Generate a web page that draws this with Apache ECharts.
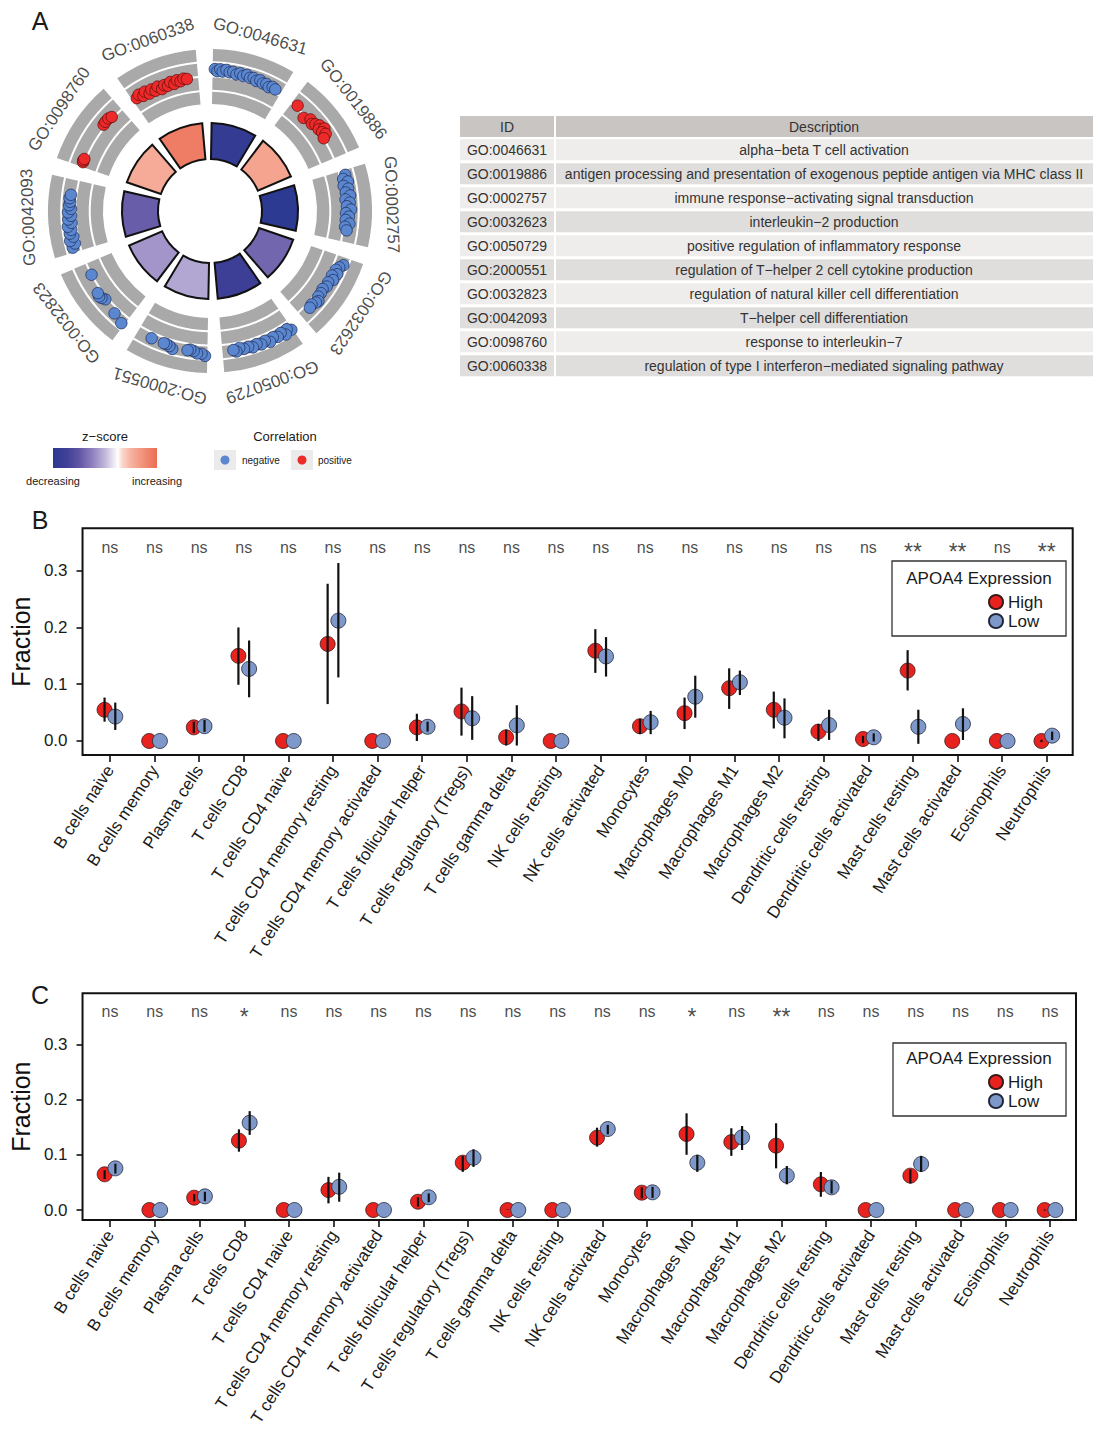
<!DOCTYPE html>
<html>
<head>
<meta charset="utf-8">
<script src="https://cdn.jsdelivr.net/npm/echarts@6/dist/echarts.min.js"></script>
<style>
  html, body { margin: 0; padding: 0; background: #fff; }
  #main { width: 1093px; height: 1441px; }
</style>
</head>
<body>
<div id="main"></div>
<script>
// ---- panel A: GO terms ------------------------------------------------------
var GO_IDS = ['GO:0046631', 'GO:0019886', 'GO:0002757', 'GO:0032623', 'GO:0050729',
              'GO:2000551', 'GO:0032823', 'GO:0042093', 'GO:0098760', 'GO:0060338'];
var GO_DESC = [
  'alpha\u2212beta T cell activation',
  'antigen processing and presentation of exogenous peptide antigen via MHC class II',
  'immune response\u2212activating signal transduction',
  'interleukin\u22122 production',
  'positive regulation of inflammatory response',
  'regulation of T\u2212helper 2 cell cytokine production',
  'regulation of natural killer cell differentiation',
  'T\u2212helper cell differentiation',
  'response to interleukin\u22127',
  'regulation of type I interferon\u2212mediated signaling pathway'
];
// z-score of each term (inner ring)
var GO_ZSCORE = [-4.6, 1.4, -4.9, -2.6, -4.1, -1.3, -1.6, -2.8, 1.2, 2.5];
// correlation sign of each term (outer ring dots)
var GO_SIGN = ['negative', 'positive', 'negative', 'negative', 'negative',
               'negative', 'negative', 'negative', 'positive', 'positive'];
// genes of each term: [position inside the term, logFC level]
var GO_GENES = [
  [[.11,3.5],[.14,3.3],[.17,3.5],[.20,3.3],[.24,3.5],[.28,3.3],[.32,3.4],[.36,3.2],[.40,3.4],[.44,3.2],
   [.48,3.4],[.52,3.2],[.56,3.3],[.60,3.1],[.64,3.3],[.68,3.1],[.72,3.2],[.76,3.0],[.80,3.2],[.84,3.1]],
  [[.16,3.0],[.31,2.5],[.38,2.9],[.43,2.7],[.46,2.95],[.50,3.2],[.53,2.9],[.56,3.4],[.58,3.0],[.62,3.2],[.65,2.8]],
  [[.14,3.3],[.18,3.0],[.22,3.4],[.26,2.9],[.30,3.3],[.34,3.0],[.38,3.4],[.42,2.9],[.46,3.3],[.50,3.0],
   [.54,3.4],[.58,2.9],[.62,3.2],[.66,2.9],[.70,3.3],[.74,2.9],[.78,3.1]],
  [[.17,3.7],[.21,3.4],[.25,3.2],[.29,3.5],[.33,3.1],[.37,3.4],[.42,3.1],[.47,3.2],[.52,3.0],[.57,3.1],
   [.62,3.1],[.66,3.4],[.69,3.3],[.74,3.1],[.78,3.2]],
  [[.10,3.7],[.14,3.4],[.18,3.8],[.22,3.4],[.27,3.6],[.32,3.4],[.37,3.7],[.42,3.4],[.47,3.6],[.52,3.4],
   [.57,3.6],[.62,3.4],[.67,3.5],[.72,3.3],[.76,3.6],[.79,3.4]],
  [[.11,3.8],[.15,3.6],[.20,3.6],[.24,3.4],[.28,3.3],[.31,3.4],[.48,3.6],[.52,3.4],[.56,3.3],[.59,3.3],[.74,3.3]],
  [[.12,3.6],[.25,3.3],[.44,3.0],[.48,3.2],[.51,3.3],[.55,3.2],[.77,2.75]],
  [[.14,3.5],[.18,3.2],[.22,3.6],[.26,3.2],[.30,3.5],[.34,3.3],[.38,3.6],[.42,3.2],[.46,3.5],[.50,3.2],
   [.54,3.5],[.58,3.2],[.62,3.4],[.66,3.3],[.70,3.4],[.74,3.3]],
  [[.14,2.9],[.16,2.95],[.18,2.9],[.64,3.0],[.68,3.05],[.73,3.05],[.77,2.9]],
  [[.14,2.75],[.18,2.95],[.22,2.6],[.26,2.9],[.30,2.5],[.34,2.8],[.38,2.5],[.42,2.8],[.46,2.4],[.50,2.7],
   [.54,2.5],[.58,2.8],[.62,2.5],[.66,2.8],[.70,2.6],[.74,2.8],[.78,2.7]]
];

// ---- panels B and C: immune cell fractions -----------------------------------
var CELL_TYPES = ['B cells naive', 'B cells memory', 'Plasma cells', 'T cells CD8', 'T cells CD4 naive',
  'T cells CD4 memory resting', 'T cells CD4 memory activated', 'T cells follicular helper',
  'T cells regulatory (Tregs)', 'T cells gamma delta', 'NK cells resting', 'NK cells activated',
  'Monocytes', 'Macrophages M0', 'Macrophages M1', 'Macrophages M2', 'Dendritic cells resting',
  'Dendritic cells activated', 'Mast cells resting', 'Mast cells activated', 'Eosinophils', 'Neutrophils'];
var Y_TICKS = [0, 0.1, 0.2, 0.3];

var B_HIGH_MEAN = [0.055, 0, 0.024, 0.150, 0, 0.171, 0, 0.024, 0.052, 0.0065, 0, 0.159, 0.026, 0.049, 0.093, 0.055, 0.0165, 0.0035, 0.124, 0, 0, 0];
var B_HIGH_LO   = [0.034, 0, 0.014, 0.099, 0, 0.065, 0, 0.000, 0.0094, -0.008, 0, 0.120, 0.012, 0.021, 0.0565, 0.022, 0.000, -0.004, 0.089, 0, 0, -0.002];
var B_HIGH_HI   = [0.0765, 0, 0.034, 0.200, 0, 0.277, 0, 0.048, 0.094, 0.020, 0, 0.197, 0.039, 0.0765, 0.128, 0.087, 0.030, 0.009, 0.160, 0, 0, 0.002];
var B_LOW_MEAN  = [0.043, 0, 0.026, 0.127, 0, 0.212, 0, 0.025, 0.040, 0.0276, 0, 0.149, 0.033, 0.078, 0.1035, 0.041, 0.028, 0.0065, 0.025, 0.030, 0, 0.0094];
var B_LOW_LO    = [0.0194, 0, 0.016, 0.077, 0, 0.112, 0, 0.0165, 0.002, -0.008, 0, 0.1135, 0.012, 0.041, 0.081, 0.0047, 0.0018, -0.001, -0.005, 0.0018, 0, 0.0018];
var B_LOW_HI    = [0.0676, 0, 0.037, 0.177, 0, 0.3135, 0, 0.034, 0.079, 0.063, 0, 0.183, 0.053, 0.115, 0.124, 0.075, 0.055, 0.0135, 0.055, 0.0576, 0, 0.0165];
var B_SIG = ['ns','ns','ns','ns','ns','ns','ns','ns','ns','ns','ns','ns','ns','ns','ns','ns','ns','ns','**','**','ns','**'];

var C_HIGH_MEAN = [0.0646, 0, 0.0223, 0.1255, 0, 0.036, 0, 0.015, 0.0857, 0, 0, 0.131, 0.0314, 0.1376, 0.123, 0.1165, 0.0465, 0, 0.0622, 0, 0, 0];
var C_HIGH_LO   = [0.056, 0, 0.0157, 0.1056, 0, 0.012, 0, 0.006, 0.069, 0, 0, 0.1147, 0.021, 0.100, 0.098, 0.0754, 0.024, 0, 0.048, 0, 0, -0.001];
var C_HIGH_HI   = [0.072, 0, 0.029, 0.146, 0, 0.060, 0, 0.023, 0.098, 0.001, 0, 0.149, 0.041, 0.175, 0.148, 0.157, 0.0688, 0, 0.0736, 0, 0, 0.001];
var C_LOW_MEAN  = [0.0754, 0, 0.0247, 0.158, 0, 0.042, 0, 0.023, 0.0947, 0, 0, 0.1466, 0.032, 0.0857, 0.1316, 0.0622, 0.041, 0, 0.0833, 0, 0, 0];
var C_LOW_LO    = [0.066, 0, 0.016, 0.136, 0, 0.015, 0, 0.014, 0.078, 0, 0, 0.137, 0.022, 0.069, 0.1086, 0.0465, 0.030, 0, 0.069, 0, 0, 0];
var C_LOW_HI    = [0.084, 0, 0.033, 0.179, 0, 0.0676, 0, 0.030, 0.110, 0, 0, 0.154, 0.042, 0.100, 0.152, 0.0797, 0.053, 0, 0.098, 0, 0, 0];
var C_SIG = ['ns','ns','ns','*','ns','ns','ns','ns','ns','ns','ns','ns','ns','*','ns','**','ns','ns','ns','ns','ns','ns'];

// ---- styles ---------------------------------------------------------------
var FONT = '"Liberation Sans", Arial, Helvetica, sans-serif';
var RED = '#e8231f', BLUE = '#7f98ca';
var NEG = '#5a87cf', POS = '#ec2a2a';
var Z_STOPS = [[-5,'#2b3990'],[-4,'#3f3f97'],[-3,'#5f55a4'],[-2,'#8e7fbd'],[-1,'#c2b7db'],
               [0,'#ffffff'],[0.3,'#fbd9cf'],[1,'#f6b29f'],[2,'#f18f77'],[3,'#ec6b54']];

function hexRgb(h) { return [parseInt(h.substr(1,2),16), parseInt(h.substr(3,2),16), parseInt(h.substr(5,2),16)]; }
function zColor(z) {
  for (var k = 0; k < Z_STOPS.length - 1; k++) {
    var a = Z_STOPS[k], b = Z_STOPS[k+1];
    if (z <= b[0]) {
      var t = Math.max(0, (z - a[0]) / (b[0] - a[0]));
      var ca = hexRgb(a[1]), cb = hexRgb(b[1]);
      return 'rgb(' + [0,1,2].map(function (j) { return Math.round(ca[j] + (cb[j]-ca[j]) * t); }).join(',') + ')';
    }
  }
  return Z_STOPS[Z_STOPS.length-1][1];
}

// ring geometry of the circle (px along radius axis)
var RING = { inFrom: 52, inWidth: 36, bandFrom: 107, band: 12.25, line: 2 };
var CENTER = [210, 211];
var START = 92;

var chart = echarts.init(document.getElementById('main'), null, { renderer: 'svg' });

function hiddenAxis(extra) {
  var a = { axisLine: { show: false }, axisTick: { show: false }, axisLabel: { show: false }, splitLine: { show: false } };
  for (var k in extra) a[k] = extra[k];
  return a;
}

var series = [];
var T = 'rgba(0,0,0,0)';

// inner ring (z-score)
series.push({ type: 'bar', coordinateSystem: 'polar', polarIndex: 0, stack: 'in', silent: true,
  barCategoryGap: '17%', barGap: '-100%', itemStyle: { color: T },
  data: GO_IDS.map(function () { return RING.inFrom; }) });
series.push({ type: 'bar', coordinateSystem: 'polar', polarIndex: 0, stack: 'in', silent: true,
  barCategoryGap: '17%', barGap: '-100%', itemStyle: { borderColor: '#111', borderWidth: 2 },
  data: GO_ZSCORE.map(function (z) { return { value: RING.inWidth, itemStyle: { color: zColor(z) } }; }) });
// outer ring grey tracks
['base','band','line','band','line','band','line','band'].forEach(function (kind) {
  series.push({ type: 'bar', coordinateSystem: 'polar', polarIndex: 0, stack: 'out', silent: true,
    barCategoryGap: '17%', barGap: '-100%',
    itemStyle: { color: kind === 'band' ? '#a9a9a9' : T },
    data: GO_IDS.map(function () { return kind === 'base' ? RING.bandFrom : kind === 'band' ? RING.band : RING.line; }) });
});
// genes
['negative', 'positive'].forEach(function (sign) {
  var pts = [];
  GO_GENES.forEach(function (genes, i) {
    if (GO_SIGN[i] !== sign) return;
    genes.forEach(function (g) { pts.push([g[1], i + g[0]]); });
  });
  series.push({ name: sign, type: 'scatter', coordinateSystem: 'polar', polarIndex: 1, silent: true,
    symbolSize: 11.5, data: pts,
    itemStyle: { color: sign === 'negative' ? NEG : POS, borderColor: sign === 'negative' ? '#1d2a55' : '#5a0a0a', borderWidth: 0.7, opacity: 1 } });
});
// term labels around the circle
series.push({ type: 'scatter', coordinateSystem: 'polar', polarIndex: 2, silent: true, symbolSize: 1,
  itemStyle: { color: T },
  label: { show: true, position: 'inside', fontSize: 17, color: '#1a1a1a', fontFamily: FONT,
    formatter: function (p) { return GO_IDS[p.dataIndex]; } },
  data: GO_IDS.map(function (id, i) {
    var ang = START - 36 * (i + 0.5);
    return { value: [1, i + 0.5], label: { rotate: ang - 90 } };
  }) });

// ---- panels B, C -----------------------------------------------------------
var DODGE = 0.12;
var TICKS = CELL_TYPES.map(function (c, i) { return i; });

function errItem(params, api) {
  var x = api.value(0);
  var a = api.coord([x, api.value(1)]);
  var b = api.coord([x, api.value(2)]);
  return { type: 'line', shape: { x1: a[0], y1: a[1], x2: b[0], y2: b[1] },
           style: { stroke: '#111', lineWidth: 2.2, lineCap: 'butt' } };
}

function addPanel(gi, hiM, hiL, hiH, loM, loL, loH, sig, sigY) {
  series.push({ name: 'High', type: 'scatter', xAxisIndex: gi, yAxisIndex: gi, symbolSize: 15, z: 3,
    itemStyle: { color: RED, borderColor: '#3a1a1a', borderWidth: 0.8, opacity: 1 },
    data: hiM.map(function (v, i) { return [i - DODGE, v]; }) });
  series.push({ name: 'Low', type: 'scatter', xAxisIndex: gi, yAxisIndex: gi, symbolSize: 15, z: 3,
    itemStyle: { color: BLUE, borderColor: '#22283a', borderWidth: 0.8, opacity: 1 },
    data: loM.map(function (v, i) { return [i + DODGE, v]; }) });
  series.push({ type: 'custom', xAxisIndex: gi, yAxisIndex: gi, renderItem: errItem, z: 4, silent: true,
    data: hiM.map(function (v, i) { return [i - DODGE, hiL[i], hiH[i]]; })
      .concat(loM.map(function (v, i) { return [i + DODGE, loL[i], loH[i]]; })) });
  series.push({ type: 'scatter', xAxisIndex: gi, yAxisIndex: gi, symbolSize: 1, silent: true,
    itemStyle: { color: T },
    label: { show: true, position: 'inside', fontSize: 16, color: '#1a1a1a', fontFamily: FONT,
      formatter: function (p) { return sig[p.dataIndex]; } },
    data: sig.map(function (s, i) {
      var star = s.indexOf('*') >= 0;
      return { value: [i, sigY], label: star ? { fontSize: 23, offset: [0, 5] } : {} };
    }) });
}
addPanel(0, B_HIGH_MEAN, B_HIGH_LO, B_HIGH_HI, B_LOW_MEAN, B_LOW_LO, B_LOW_HI, B_SIG, 0.3417);
addPanel(1, C_HIGH_MEAN, C_HIGH_LO, C_HIGH_HI, C_LOW_MEAN, C_LOW_LO, C_LOW_HI, C_SIG, 0.3585);

function xAx(gi) {
  return { gridIndex: gi, type: 'value', min: -0.614, max: 21.58,
    axisLine: { show: false, onZero: false }, splitLine: { show: false },
    axisTick: { show: true, inside: false, customValues: TICKS, length: 7, lineStyle: { color: '#111', width: 1.6 } },
    axisLabel: { show: true, customValues: TICKS, rotate: 57, margin: 12, fontSize: 17, color: '#1a1a1a',
      fontFamily: FONT, formatter: function (v) { return CELL_TYPES[Math.round(v)]; } } };
}
function yAx(gi, mn, mx) {
  return { gridIndex: gi, type: 'value', min: mn, max: mx,
    axisLine: { show: false, onZero: false }, splitLine: { show: false },
    axisTick: { show: true, inside: false, customValues: Y_TICKS, length: 6, lineStyle: { color: '#111', width: 1.6 } },
    axisLabel: { show: true, customValues: Y_TICKS, margin: 15, fontSize: 17, color: '#1a1a1a', fontFamily: FONT,
      formatter: function (v) { return v.toFixed(1); } },
    name: 'Fraction', nameLocation: 'middle', nameGap: 45,
    nameTextStyle: { fontSize: 25, color: '#111', fontFamily: FONT } };
}

// ---- graphic: table, legends, panel letters ---------------------------------
var g = [];
function txt(x, y, s, size, align, color) {
  g.push({ type: 'text', x: x, y: y, silent: true,
    style: { text: s, font: size + 'px ' + FONT, fill: color || '#1a1a1a',
             textAlign: align || 'center', textVerticalAlign: 'middle' } });
}
function rect(x, y, w, h, fill, stroke) {
  g.push({ type: 'rect', silent: true, shape: { x: x, y: y, width: w, height: h },
    style: { fill: fill, stroke: stroke || null, lineWidth: stroke ? 1.3 : 0 } });
}
txt(40, 21, 'A', 25); txt(40, 520, 'B', 25); txt(40, 995, 'C', 25);

// table
var TAB = { x0: 460, w0: 94, x1: 556, w1: 545, top: 116, h: 21, pitch: 24 };
rect(TAB.x0, TAB.top, TAB.w0, TAB.h, '#c8c5c2');
rect(TAB.x1, TAB.top, TAB.w1, TAB.h, '#c8c5c2');
txt(TAB.x0 + TAB.w0 / 2, TAB.top + TAB.h / 2 + 0.5, 'ID', 14, 'center', '#333');
txt(824, TAB.top + TAB.h / 2 + 0.5, 'Description', 14, 'center', '#333');
GO_IDS.forEach(function (id, i) {
  var y = TAB.top + 23.3 + TAB.pitch * i;
  var fill = i % 2 === 0 ? '#efedeb' : '#e0dedc';
  rect(TAB.x0, y, TAB.w0, TAB.h, fill);
  rect(TAB.x1, y, TAB.w1, TAB.h, fill);
  txt(TAB.x0 + TAB.w0 / 2, y + TAB.h / 2 + 0.5, id, 14, 'center', '#333');
  txt(824, y + TAB.h / 2 + 0.5, GO_DESC[i], 14, 'center', '#333');
});

// z-score legend
txt(105, 436, 'z\u2212score', 13);
g.push({ type: 'rect', silent: true, shape: { x: 53, y: 448, width: 104, height: 20 },
  style: { fill: new echarts.graphic.LinearGradient(0, 0, 1, 0, Z_STOPS.map(function (s) {
    return { offset: (s[0] - Z_STOPS[0][0]) / (Z_STOPS[Z_STOPS.length-1][0] - Z_STOPS[0][0]), color: s[1] };
  })) } });
txt(53, 481, 'decreasing', 11); txt(157, 481, 'increasing', 11);
// correlation legend
txt(285, 436, 'Correlation', 13);
rect(214, 450, 22, 20, '#ebebeb'); g.push({ type: 'circle', silent: true, shape: { cx: 225, cy: 460, r: 4.5 }, style: { fill: NEG } });
txt(242, 460, 'negative', 10, 'left');
rect(291, 450, 22, 20, '#ebebeb'); g.push({ type: 'circle', silent: true, shape: { cx: 302, cy: 460, r: 4.5 }, style: { fill: POS } });
txt(318, 460, 'positive', 10, 'left');

// APOA4 legend frames
rect(892, 561, 174, 75, 'rgba(0,0,0,0)', '#333');
txt(979, 578, 'APOA4 Expression', 17);
rect(893, 1043, 173, 73, 'rgba(0,0,0,0)', '#333');
txt(979, 1058, 'APOA4 Expression', 17);

function apoaLegend(top) {
  return { data: ['High', 'Low'], orient: 'vertical', left: 988, top: top, padding: 0, itemGap: 0,
    itemWidth: 14, itemHeight: 14, icon: 'circle', selectedMode: false,
    textStyle: { fontSize: 17, color: '#1a1a1a', fontFamily: FONT, lineHeight: 19 } };
}

var option = {
  animation: false,
  backgroundColor: '#fff',
  textStyle: { fontFamily: FONT },
  polar: [
    { center: CENTER, radius: 162 },
    { center: CENTER, radius: [RING.bandFrom, 162] },
    { center: CENTER, radius: 182 }
  ],
  angleAxis: [
    hiddenAxis({ polarIndex: 0, type: 'category', data: GO_IDS, startAngle: START, clockwise: true }),
    hiddenAxis({ polarIndex: 1, type: 'value', min: 0, max: 10, startAngle: START, clockwise: true }),
    hiddenAxis({ polarIndex: 2, type: 'value', min: 0, max: 10, startAngle: START, clockwise: true })
  ],
  radiusAxis: [
    hiddenAxis({ polarIndex: 0, type: 'value', min: 0, max: 162 }),
    hiddenAxis({ polarIndex: 1, type: 'value', min: 0, max: 5.5 }),
    hiddenAxis({ polarIndex: 2, type: 'value', min: 0, max: 1 })
  ],
  grid: [
    { left: 79.3, top: 528.3, width: 993.4, height: 226.7, show: true, borderColor: '#111', borderWidth: 2 },
    { left: 82, top: 993.3, width: 994, height: 226.7, show: true, borderColor: '#111', borderWidth: 2 }
  ],
  xAxis: [xAx(0), xAx(1)],
  yAxis: [yAx(0, -0.0247, 0.3747), yAx(1, -0.0181, 0.3923)],
  legend: [apoaLegend(592.5), apoaLegend(1072.5)],
  graphic: { elements: g },
  series: series
};
chart.setOption(option);
</script>
</body>
</html>
